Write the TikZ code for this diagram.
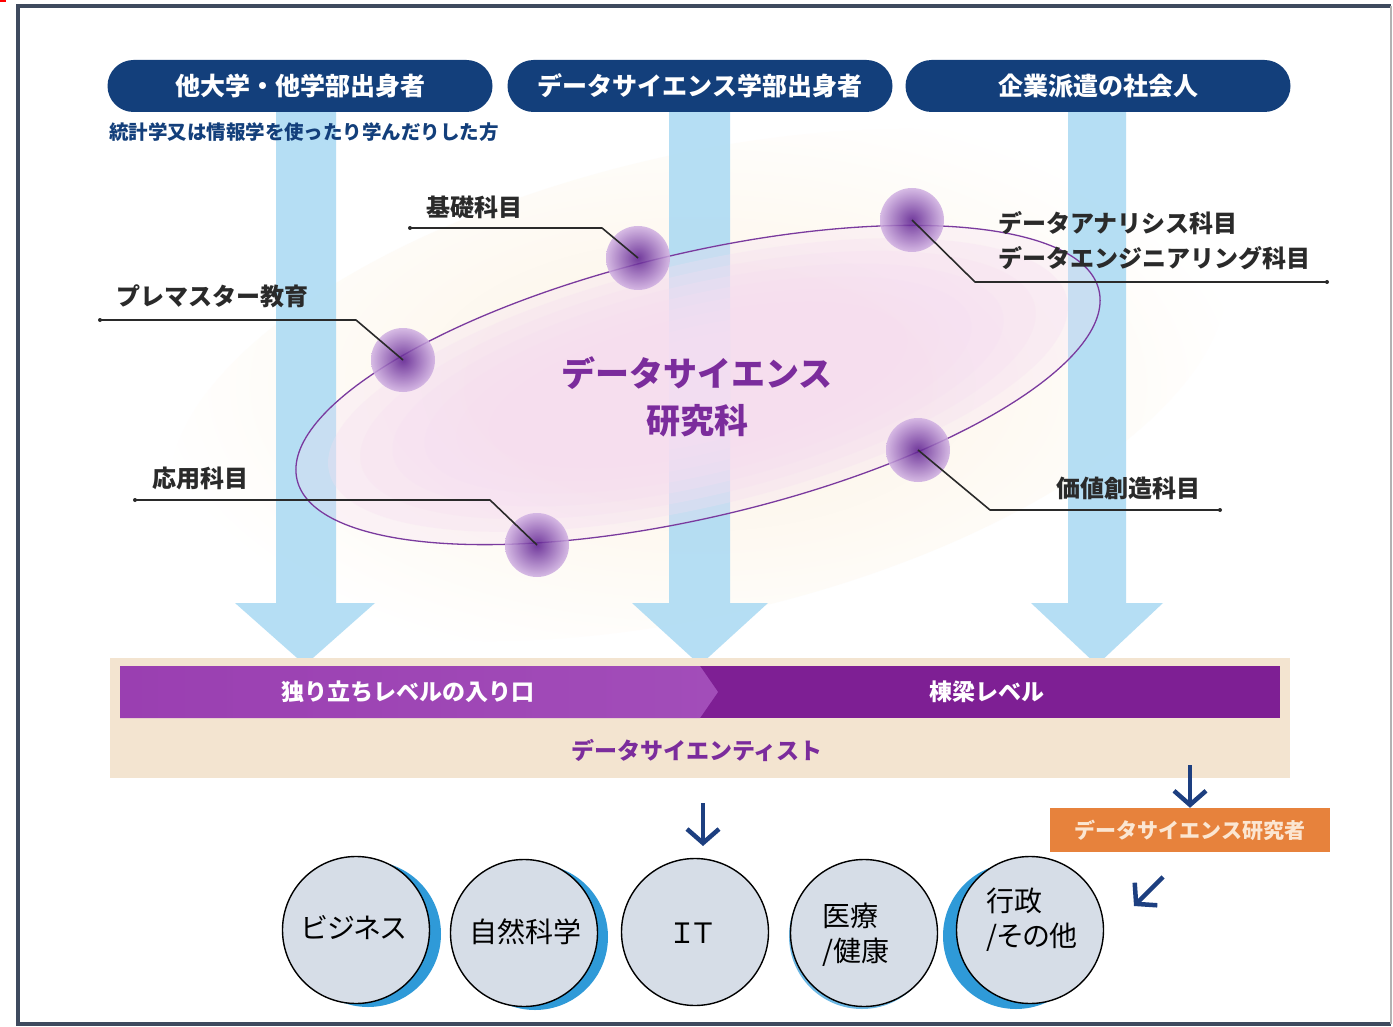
\documentclass[tikz,border=0pt]{standalone}
\usepackage{fontspec}
\newfontfamily\jp{Noto Sans CJK JP}
\newfontfamily\jpp[RawFeature=+palt]{Noto Sans CJK JP}
\usetikzlibrary{arrows.meta,calc}
\definecolor{navy}{HTML}{133F7B}
\definecolor{skyb}{HTML}{AEDBF3}
\definecolor{framec}{HTML}{3E4A5E}
\definecolor{purp}{HTML}{7B2C9C}
\definecolor{purpL}{HTML}{9A3FB1}
\definecolor{purpM}{HTML}{A24DB9}
\definecolor{purpD}{HTML}{7E1F94}
\definecolor{cream}{HTML}{F3E4D0}
\definecolor{orng}{HTML}{E7823C}
\definecolor{orngt}{HTML}{FBE6D2}
\definecolor{circf}{HTML}{D6DDE7}
\definecolor{circs}{HTML}{2F9AD8}
\definecolor{pinkc}{HTML}{F6DEF1}
\definecolor{glow}{HTML}{FCF2E2}
\definecolor{labtxt}{HTML}{2A2A2A}
\definecolor{arrn}{HTML}{1D3F80}
\definecolor{dotcore}{HTML}{5A1A8E}
\definecolor{dothalo}{HTML}{D0B0E2}
\definecolor{ellline}{HTML}{7A3A9E}
\newcommand\fsz[2]{\fontsize{#1}{#2}\selectfont}
\begin{document}
\begin{tikzpicture}[x=1pt,y=-1pt,
  pill/.style={fill=navy, rounded corners=26pt, minimum width=385pt, minimum height=52pt, inner sep=0pt, text=white, font=\jp\bfseries\fsz{25}{30}},
  lab/.style={text=labtxt, font=\jp\bfseries\fsz{24}{30}, inner sep=0pt},
  callout/.style={draw=labtxt, line width=1.6pt, line join=round},
  dotn/.style={circle, inner sep=0pt, minimum size=64pt, inner color=dotcore, outer color=dothalo, fill opacity=0.85},
  bart/.style={text=white, font=\jp\bfseries\fsz{23}{28}, inner sep=0pt},
  navarr/.style={draw=arrn, line width=4.5pt, -{Straight Barb[length=14pt, width=32pt]}},
  circ/.style={circle, draw=black, line width=1.4pt, fill=circf, minimum size=147pt, inner sep=0pt},
  circt/.style={font=\jpp\fsz{28}{35}, text=black, inner sep=0pt, align=left},
  skyarrow/.style={fill=skyb, fill opacity=0.9}
]
\useasboundingbox (0,0) rectangle (1393,1027);
\fill[white] (0,0) rectangle (1393,1027);
\draw[red, line width=2pt] (0,1) -- (6,1);

% soft glow behind the ellipse
\shade[rotate around={13.3:(698,385)}, inner color=glow, outer color=white] (698,385) ellipse [x radius=540pt, y radius=230pt];

% light blue flow arrows
\path[skyarrow] (276,100) -- (336,100) -- (336,603) -- (375,603) -- (305,665) -- (235,603) -- (276,603) -- cycle;
\path[skyarrow] (669,100) -- (730,100) -- (730,603) -- (768,603) -- (700,665) -- (632,603) -- (669,603) -- cycle;
\path[skyarrow] (1068,100) -- (1126,100) -- (1126,603) -- (1163,603) -- (1097,665) -- (1031,603) -- (1068,603) -- cycle;

% ellipse (translucent at the rim, opaque in the middle)
\begin{scope}[rotate around={13.3:(698,385)}]
  \foreach \s in {1.0,0.92,0.84,0.76,0.68,0.6,0.52,0.44,0.36}
    \fill[pinkc, fill opacity=0.3] (698,385) ellipse [x radius=412pt*\s, y radius=132pt*\s];
  \draw[ellline, line width=1.3pt] (698,385) ellipse [x radius=412pt, y radius=132pt];
\end{scope}
\node[text=purp, font=\jp\bfseries\fsz{34}{47}, align=center] (title) at (697,397) {データサイエンス\\研究科};

% dots
\node[dotn] (d1) at (403,360) {};
\node[dotn] (d2) at (638,258) {};
\node[dotn] (d3) at (912,220) {};
\node[dotn] (d4) at (918,450) {};
\node[dotn] (d5) at (537,545) {};

% callouts
\coordinate (k2) at (410,228);  \coordinate (b2) at (602,228);
\coordinate (k1) at (100,320);  \coordinate (b1) at (356,320);
\coordinate (k5) at (135,500);  \coordinate (b5) at (490,500);
\coordinate (k3) at (1327,282); \coordinate (b3) at (975,282);
\coordinate (k4) at (1220,510); \coordinate (b4) at (990,510);
\draw[callout] (k2) -- (b2) -- (d2.center);
\draw[callout] (k1) -- (b1) -- (d1.center);
\draw[callout] (k5) -- (b5) -- (d5.center);
\draw[callout] (d3.center) -- (b3) -- (k3);
\draw[callout] (d4.center) -- (b4) -- (k4);
\foreach \k in {k1,k2,k3,k4,k5} \fill[labtxt] (\k) circle (2pt);

\node[lab] (l2) at (474,207) {基礎科目};
\node[lab] (l1) at (212,296) {プレマスター教育};
\node[lab] (l5) at (200,478) {応用科目};
\node[lab, anchor=west] (l3a) at (998,223) {データアナリシス科目};
\node[lab, anchor=west] (l3b) at (998,258) {データエンジニアリング科目};
\node[lab] (l4) at (1128,488) {価値創造科目};

% top pills
\node[pill] (p1) at (300,86) {他大学・他学部出身者};
\node[pill] (p2) at (700,86) {データサイエンス学部出身者};
\node[pill] (p3) at (1098,86) {企業派遣の社会人};
\node[text=navy, font=\jp\bfseries\fsz{19.5}{24}, inner sep=0pt] (sub) at (304,132) {統計学又は情報学を使ったり学んだりした方};

% level bar
\fill[cream] (110,658) rectangle (1290,778);
\fill[purpD] (700,666) rectangle (1280,718);
\shade[left color=purpL, right color=purpM] (120,666) -- (700,666) -- (718,692) -- (700,718) -- (120,718) -- cycle;
\node[bart] (lv1) at (408,692) {独り立ちレベルの入り口};
\node[bart] (lv2) at (987,692) {棟梁レベル};
\node[text=purp, font=\jp\bfseries\fsz{23}{28}, inner sep=0pt] (ds) at (697,750) {データサイエンティスト};

% orange box
\node[fill=orng, minimum width=280pt, minimum height=44pt, inner sep=0pt, text=orngt, font=\jp\bfseries\fsz{21}{26}] (res) at (1190,830) {データサイエンス研究者};

% navy arrows
\coordinate (a1s) at (703,803); \coordinate (a1e) at (703,846);
\coordinate (a2s) at (1190,765);
\coordinate (a3s) at (1163,877); \coordinate (a3e) at (1134,906);
\draw[navarr] (a1s) -- (a1e);
\draw[navarr] (a2s) -- (res.north);
\draw[navarr] (a3s) -- (a3e);

% circle shadows
\fill[circs] (368,934) circle (73pt);
\fill[circs] (535,937) circle (73pt);
\fill[circs!70!white] (862,936) circle (73pt);
\fill[circs] (1016,936) circle (73pt);

% circles
\node[circ] (c1) at (356,930) {};
\node[circ] (c2) at (524,933) {};
\node[circ] (c3) at (695,932) {};
\node[circ] (c4) at (864,933) {};
\node[circ] (c5) at (1030,930) {};
\node[circt] (t1) at (354,928) {ビジネス};
\node[circt] (t2) at (525,932) {自然科学};
\node[circt] (t3) at (693,933) {ＩＴ};
\node[circt, anchor=west] (t4) at (822,935) {医療\\/健康};
\node[circt, anchor=west] (t5) at (986,920) {行政\\/その他};

% frame
\draw[framec, line width=3.5pt] (1391,6) -- (18,6) -- (18,1024) -- (1391,1024);
\draw[gray!60, line width=1.2pt] (1391,6) -- (1391,1024);
\end{tikzpicture}
\end{document}
